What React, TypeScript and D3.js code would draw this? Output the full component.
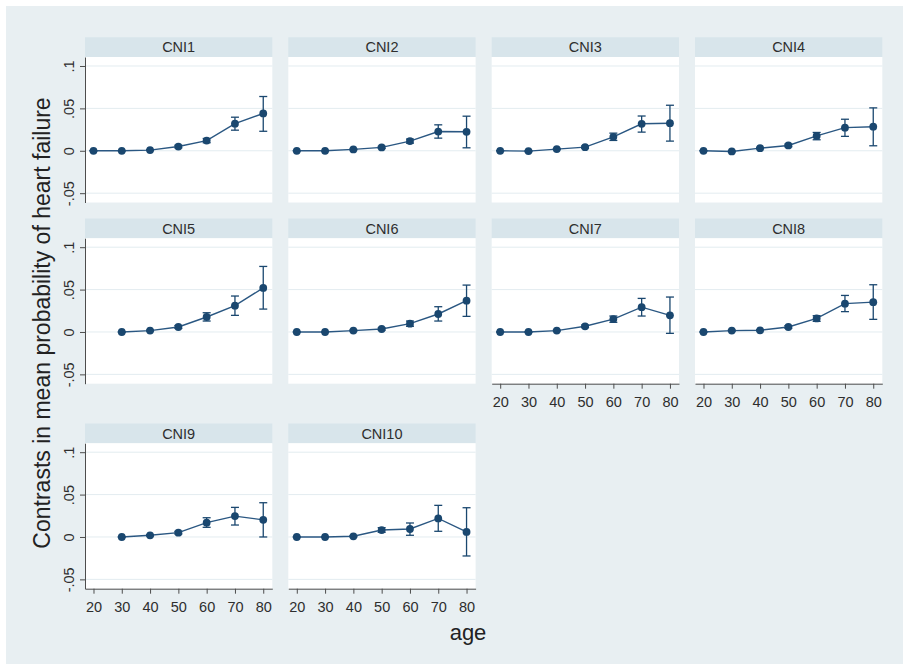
import React, { useEffect, useRef } from 'react';
import * as d3 from 'd3';

// panel labels and the age categories on the x axis
const panelNames = ["CNI1", "CNI2", "CNI3", "CNI4", "CNI5", "CNI6", "CNI7", "CNI8", "CNI9", "CNI10"];
const ages = [20, 30, 40, 50, 60, 70, 80];

// contrasts in mean probability, one row per panel (null = not estimated)
const estimates = [
    [0, 0, 0.0008, 0.005, 0.012, 0.032, 0.044],
    [0, 0, 0.0016, 0.004, 0.0114, 0.0227, 0.0224],
    [0, -0.0004, 0.002, 0.0043, 0.0165, 0.0318, 0.0325],
    [0, -0.0008, 0.0031, 0.0063, 0.0175, 0.0273, 0.0284],
    [null, 0, 0.0016, 0.0059, 0.0177, 0.031, 0.052],
    [0, 0, 0.0016, 0.0035, 0.0098, 0.0212, 0.0369],
    [0, 0, 0.0016, 0.0067, 0.0152, 0.0293, 0.0196],
    [0, 0.0016, 0.002, 0.0059, 0.016, 0.0334, 0.0352],
    [null, 0, 0.002, 0.0051, 0.0169, 0.0246, 0.0202],
    [0, 0, 0.0008, 0.0082, 0.0094, 0.0219, 0.006],
];
const lowerCI = [
    [0, -0.0002, 0.0003, 0.0035, 0.0095, 0.0243, 0.023],
    [0, -0.0002, 0.0011, 0.0028, 0.009, 0.0149, 0.0035],
    [0, -0.001, 0.0014, 0.003, 0.0122, 0.022, 0.0114],
    [0, -0.0014, 0.0022, 0.0048, 0.013, 0.017, 0.0059],
    [null, 0, 0.001, 0.0042, 0.0129, 0.0196, 0.027],
    [0, -0.0002, 0.001, 0.0022, 0.0067, 0.0129, 0.0184],
    [0, -0.0002, 0.001, 0.0052, 0.0114, 0.0188, -0.0016],
    [0, 0.001, 0.0013, 0.0044, 0.0125, 0.024, 0.0149],
    [null, -0.0003, 0.0012, 0.0036, 0.0114, 0.0141, 0],
    [0, -0.0003, 0.0001, 0.0055, 0.002, 0.0067, -0.0224],
];
const upperCI = [
    [0, 0.0002, 0.0013, 0.0065, 0.0145, 0.0396, 0.064],
    [0, 0.0002, 0.0021, 0.0052, 0.0138, 0.0306, 0.0408],
    [0, 0.0002, 0.0026, 0.0056, 0.0208, 0.041, 0.0537],
    [0, -0.0002, 0.004, 0.0078, 0.0216, 0.0372, 0.0506],
    [null, 0, 0.0022, 0.0076, 0.0227, 0.0424, 0.0773],
    [0, 0.0002, 0.0022, 0.0048, 0.0129, 0.0298, 0.0553],
    [0, 0.0002, 0.0022, 0.0082, 0.0188, 0.0396, 0.0412],
    [0, 0.0022, 0.0027, 0.0074, 0.0192, 0.0431, 0.0557],
    [null, 0.0003, 0.0028, 0.0066, 0.0227, 0.0349, 0.0404],
    [0, 0.0003, 0.0015, 0.011, 0.0165, 0.0373, 0.0345],
];

const yTicks = [-0.05, 0, 0.05, 0.1];
const yTickLabels = ["-.05", "0", ".05", ".1"];

const App = () => {
    const svgRef = useRef(null);

    useEffect(() => {
        const width = 907;
        const height = 664;
        const colLeft = [85, 288.3, 491.7, 695];
        const rowTop = [37.3, 218.5, 423.5];
        const panelW = 187.3;
        const headerH = 19.7;
        const plotH = 145.5;
        const font = "'Liberation Sans', Arial, Helvetica, sans-serif";
        const navy = "#1a476f";
        const textColor = "#2e2e2e";
        const axisColor = "#4d4d4d";
        const labelSize = "14.5px";

        d3.select(svgRef.current).selectAll("*").remove();

        const svg = d3.select(svgRef.current)
            .attr("width", width)
            .attr("height", height)
            .attr("viewBox", `0 0 ${width} ${height}`)
            .style("display", "block");

        // outer graph region
        svg.append("rect")
            .attr("x", 6)
            .attr("y", 6)
            .attr("width", 897)
            .attr("height", 658)
            .attr("fill", "#e8eff2");

        const x = d3.scaleLinear().domain([17, 83.2]).range([0, panelW]);
        const y = d3.scaleLinear().domain([-0.061, 0.1106]).range([plotH, 0]);

        panelNames.forEach((name, i) => {
            const col = i % 4;
            const row = Math.floor(i / 4);
            const g = svg.append("g")
                .attr("transform", `translate(${colLeft[col]},${rowTop[row]})`);

            // subtitle strip
            g.append("rect")
                .attr("width", panelW)
                .attr("height", headerH)
                .attr("fill", "#d8e5eb");

            g.append("text")
                .attr("x", panelW / 2)
                .attr("y", 15)
                .attr("text-anchor", "middle")
                .style("font-family", font)
                .style("font-size", labelSize)
                .attr("fill", textColor)
                .text(name);

            const plot = g.append("g").attr("transform", `translate(0,${headerH})`);

            plot.append("rect")
                .attr("width", panelW)
                .attr("height", plotH)
                .attr("fill", "#ffffff");

            // grid lines
            plot.selectAll(".grid")
                .data(yTicks)
                .enter()
                .append("line")
                .attr("x1", 0)
                .attr("x2", panelW)
                .attr("y1", d => y(d))
                .attr("y2", d => y(d))
                .attr("stroke", "#e3ecf0")
                .attr("stroke-width", 1);

            const pts = ages.map((age, j) => ({
                age,
                est: estimates[i][j],
                lo: lowerCI[i][j],
                hi: upperCI[i][j]
            })).filter(d => d.est !== null);

            // confidence intervals (capped spikes)
            pts.forEach(d => {
                const cx = x(d.age);
                plot.append("line")
                    .attr("x1", cx).attr("x2", cx)
                    .attr("y1", y(d.lo)).attr("y2", y(d.hi))
                    .attr("stroke", navy).attr("stroke-width", 1.3);
                [d.lo, d.hi].forEach(v => {
                    plot.append("line")
                        .attr("x1", cx - 4).attr("x2", cx + 4)
                        .attr("y1", y(v)).attr("y2", y(v))
                        .attr("stroke", navy).attr("stroke-width", 1.3);
                });
            });

            const line = d3.line()
                .x(d => x(d.age))
                .y(d => y(d.est));

            plot.append("path")
                .datum(pts)
                .attr("fill", "none")
                .attr("stroke", "#2a5782")
                .attr("stroke-width", 1.4)
                .attr("d", line);

            plot.selectAll(".pt")
                .data(pts)
                .enter()
                .append("circle")
                .attr("cx", d => x(d.age))
                .attr("cy", d => y(d.est))
                .attr("r", 3.9)
                .attr("fill", navy);

            // y axis on the first column
            if (col === 0) {
                const ya = plot.append("g")
                    .call(d3.axisLeft(y).tickValues(yTicks).tickSize(5).tickSizeOuter(0)
                        .tickFormat((d, k) => yTickLabels[k]));
                ya.select(".domain").attr("stroke", axisColor);
                ya.selectAll(".tick line").attr("stroke", axisColor);
                ya.selectAll(".tick text")
                    .attr("x", null)
                    .attr("dy", null)
                    .attr("transform", "translate(-11,0) rotate(-90)")
                    .attr("text-anchor", "middle")
                    .style("font-family", font)
                    .style("font-size", labelSize)
                    .attr("fill", textColor);
            }

            // x axis where no panel sits below
            if (i + 4 >= panelNames.length) {
                const xa = plot.append("g")
                    .attr("transform", `translate(0,${plotH})`)
                    .call(d3.axisBottom(x).tickValues(ages).tickSize(5).tickSizeOuter(0));
                xa.select(".domain").attr("stroke", axisColor);
                xa.selectAll(".tick line").attr("stroke", axisColor);
                xa.selectAll(".tick text")
                    .attr("y", 23)
                    .attr("dy", null)
                    .style("font-family", font)
                    .style("font-size", labelSize)
                    .attr("fill", textColor);
            }
        });

        // axis titles
        svg.append("text")
            .attr("transform", "translate(50,323) rotate(-90)")
            .attr("text-anchor", "middle")
            .style("font-family", font)
            .style("font-size", "23px")
            .attr("fill", "#222222")
            .text("Contrasts in mean probability of heart failure");

        svg.append("text")
            .attr("x", 468)
            .attr("y", 640)
            .attr("text-anchor", "middle")
            .style("font-family", font)
            .style("font-size", "22px")
            .attr("fill", "#222222")
            .text("age");
    }, []);

    return (
        <div style={{ position: 'absolute', left: 0, top: 0 }}>
            <svg ref={svgRef}></svg>
        </div>
    );
};

export default App;
